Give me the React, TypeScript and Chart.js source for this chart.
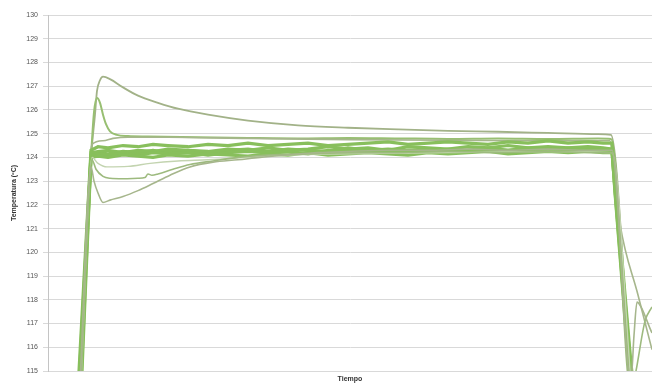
import React, { useEffect, useRef } from "react";
import { Chart, registerables } from "chart.js";

Chart.register(...registerables);

// Shared time grid for the main bundle of runs
const bundleTime = [31, 43, 50, 60, 75, 90, 105, 120, 140, 160, 180, 200, 220, 240, 260, 280, 300, 320, 340, 360, 380, 400, 420, 440, 460, 480, 500, 520, 540, 555, 564, 567, 583, 586];
const bundle1 = [114.5, 124.1, 124.2, 124.15, 124.25, 124.2, 124.3, 124.2, 124.3, 124.25, 124.35, 124.3, 124.4, 124.3, 124.35, 124.45, 124.35, 124.4, 124.3, 124.45, 124.4, 124.35, 124.45, 124.4, 124.5, 124.4, 124.45, 124.4, 124.45, 124.4, 124.35, 122.9, 115.0, 114.0];
const bundle2 = [113.8, 124.0, 124.05, 124.0, 124.1, 124.05, 124.0, 124.1, 124.05, 124.15, 124.1, 124.05, 124.15, 124.1, 124.2, 124.1, 124.15, 124.2, 124.15, 124.1, 124.2, 124.15, 124.2, 124.25, 124.15, 124.2, 124.25, 124.2, 124.25, 124.2, 124.2, 122.7, 114.6, 113.5];
const bundle3 = [115.0, 124.3, 124.45, 124.4, 124.5, 124.45, 124.55, 124.5, 124.45, 124.55, 124.5, 124.6, 124.5, 124.55, 124.6, 124.5, 124.55, 124.6, 124.65, 124.55, 124.6, 124.65, 124.6, 124.55, 124.65, 124.6, 124.7, 124.6, 124.65, 124.6, 124.6, 123.1, 115.3, 114.2];
const bundle4 = [112.6, 124.2, 124.25, 124.3, 124.2, 124.3, 124.25, 124.35, 124.3, 124.2, 124.3, 124.35, 124.25, 124.35, 124.3, 124.25, 124.4, 124.3, 124.35, 124.3, 124.25, 124.35, 124.3, 124.4, 124.3, 124.35, 124.3, 124.4, 124.35, 124.3, 124.3, 122.6, 114.3, 113.3];
const bundle5 = [112.0, 124.05, 124.15, 124.1, 124.15, 124.1, 124.2, 124.15, 124.2, 124.1, 124.2, 124.25, 124.2, 124.25, 124.15, 124.3, 124.25, 124.3, 124.2, 124.3, 124.35, 124.25, 124.3, 124.35, 124.3, 124.4, 124.35, 124.3, 124.4, 124.35, 124.35, 122.5, 114.0, 113.0];

// Individual runs that deviate from the bundle
const runATime = [31, 43, 47, 49, 52, 55, 62, 75, 90, 110, 130, 160, 200, 250, 300, 350, 400, 450, 500, 550, 563, 583, 586];
const runATemp = [114.5, 124.0, 125.8, 126.8, 127.25, 127.4, 127.3, 126.95, 126.6, 126.3, 126.05, 125.8, 125.55, 125.35, 125.25, 125.18, 125.12, 125.08, 125.03, 124.98, 124.95, 115.0, 114.5];

const runBTime = [32, 43, 46, 49, 52, 55, 58, 62, 69, 80, 100, 150, 200, 250, 300, 350, 400, 450, 500, 550, 563, 582, 585];
const runBTemp = [114.5, 124.0, 125.9, 126.5, 126.3, 125.8, 125.4, 125.1, 124.95, 124.9, 124.88, 124.85, 124.82, 124.8, 124.82, 124.8, 124.78, 124.8, 124.78, 124.8, 124.78, 115.0, 114.5];

const runCTime = [33, 44, 55, 65, 80, 120, 200, 300, 400, 500, 562, 566, 572, 590, 604, 612];
const runCTemp = [114.5, 124.55, 124.7, 124.8, 124.85, 124.85, 124.8, 124.75, 124.72, 124.7, 124.7, 123.3, 121.2, 118.2, 115.9, 114.5];

const runDTime = [32, 43, 46, 50, 55, 62, 75, 90, 105, 122, 142, 165, 190, 212, 240, 270, 300, 340, 380, 420, 460, 500, 540, 564, 583, 586, 589, 593, 604, 612];
const runDTemp = [114.5, 123.6, 123.0, 122.5, 122.1, 122.2, 122.35, 122.6, 122.9, 123.25, 123.6, 123.8, 123.9, 124.0, 124.1, 124.2, 124.25, 124.3, 124.3, 124.35, 124.3, 124.35, 124.3, 124.3, 114.6, 116.5, 117.9, 117.7, 116.6, 116.0];

const runETime = [33, 44, 48, 55, 62, 75, 90, 97, 100, 104, 110, 125, 142, 165, 190, 220, 260, 300, 350, 400, 450, 500, 550, 564, 583, 588, 597, 604];
const runETemp = [114.5, 123.9, 123.5, 123.2, 123.12, 123.1, 123.12, 123.15, 123.3, 123.25, 123.3, 123.5, 123.7, 123.85, 124.0, 124.1, 124.15, 124.2, 124.2, 124.25, 124.2, 124.25, 124.2, 124.2, 114.0, 115.0, 117.1, 117.7];

const runFTime = [33, 44, 50, 59, 80, 102, 130, 160, 200, 240, 300, 400, 500, 564, 583];
const runFTemp = [114.5, 124.0, 123.75, 123.6, 123.62, 123.75, 123.85, 123.9, 124.0, 124.1, 124.15, 124.2, 124.25, 124.2, 114.5];

const yTicksMin = 115;
const yTicksMax = 130;

const pairs = (t: number[], v: number[]) => t.map((x, i) => ({ x, y: v[i] }));

export default function App() {
  const ref = useRef<HTMLCanvasElement | null>(null);

  useEffect(() => {
    if (!ref.current) return;
    const thin = (data: { x: number; y: number }[], color: string, w = 1.6) => ({
      data,
      borderColor: color,
      borderWidth: w,
      pointRadius: 0,
      fill: false,
      cubicInterpolationMode: "monotone" as const,
    });
    const thick = (data: { x: number; y: number }[]) => ({
      data,
      borderColor: "#88bf5c",
      borderWidth: 3.2,
      pointRadius: 0,
      fill: false,
      tension: 0,
    });
    const chart = new Chart(ref.current, {
      type: "line",
      data: {
        datasets: [
          thin(pairs(runDTime, runDTemp), "#a6b68c"),
          thin(pairs(runETime, runETemp), "#9dba7e"),
          thin(pairs(runFTime, runFTemp), "#c3d4b0", 1.4),
          thick(pairs(bundleTime, bundle2)),
          thick(pairs(bundleTime, bundle5)),
          thick(pairs(bundleTime, bundle4)),
          thick(pairs(bundleTime, bundle1)),
          thick(pairs(bundleTime, bundle3)),
          thin(pairs(runCTime, runCTemp), "#a6b68c"),
          thin(pairs(runBTime, runBTemp), "#98bf72", 2),
          thin(pairs(runATime, runATemp), "#a2b288", 1.8),
        ],
      },
      options: {
        responsive: false,
        animation: false,
        layout: { padding: { top: 15, right: 0, left: 0, bottom: 0 } },
        plugins: { legend: { display: false }, tooltip: { enabled: false } },
        scales: {
          x: {
            type: "linear",
            min: 0,
            max: 604,
            ticks: { display: false },
            grid: { display: false },
            border: { display: false },
            title: {
              display: true,
              text: "Tiempo",
              color: "#333",
              font: { family: "Liberation Sans", size: 7, weight: "bold" },
              padding: { top: 0, bottom: 2 },
            },
            afterFit: (s: any) => {
              s.height = 14;
            },
          },
          y: {
            min: yTicksMin,
            max: yTicksMax,
            ticks: {
              stepSize: 1,
              color: "#555",
              font: { family: "Liberation Sans", size: 7 },
              padding: 5,
            },
            grid: { color: "#d9d9d9", lineWidth: 1, tickLength: 5 },
            border: { color: "#c4c4c4" },
            title: {
              display: true,
              text: "Temperatura (ºC)",
              color: "#333",
              font: { family: "Liberation Sans", size: 7, weight: "bold" },
              padding: { top: 10, bottom: 0 },
            },
            afterFit: (s: any) => {
              s.width = 48;
            },
          },
        },
      },
    });
    return () => chart.destroy();
  }, []);

  return (
    <div style={{ position: "absolute", left: 0, top: 0, width: 652, height: 385, background: "#fff" }}>
      <canvas ref={ref} width={652} height={385} />
    </div>
  );
}
